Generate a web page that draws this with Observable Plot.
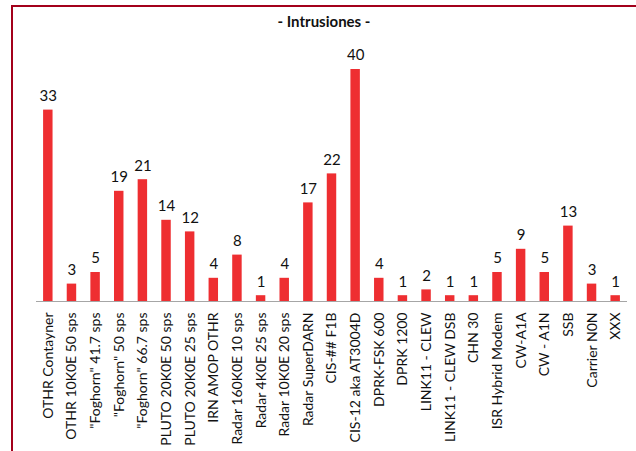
<!DOCTYPE html>
<html>
<head>
<meta charset="utf-8">
<script src="https://cdn.jsdelivr.net/npm/d3@7"></script>
<script src="https://cdn.jsdelivr.net/npm/@observablehq/plot@0.6"></script>
<style>
  html, body { margin: 0; padding: 0; background: #fff; }
  #wrap { position: relative; width: 636px; height: 451px; overflow: hidden; font-family: Lato, "Open Sans", sans-serif; }
  #frame { position: absolute; left: 11px; top: 5px; right: -4px; bottom: -4px;
           border-left: 2px solid #a3001b; border-top: 2px solid #a3001b; pointer-events: none; }
  #title { position: absolute; top: 12px; left: 12px; right: 0; text-align: center;
           font-weight: bold; font-size: 15px; color: #111; }
  #chart { position: absolute; left: 0; top: 0; }
</style>
</head>
<body>
<div id="wrap">
  <div id="chart"></div>
  <div id="frame"></div>
  <div id="title">- Intrusiones -</div>
</div>
<script>
// Signal types and how many intrusions were logged for each
const categories = [
  "OTHR Contayner",
  "OTHR 10K0E 50 sps",
  "\"Foghorn\" 41.7 sps",
  "\"Foghorn\" 50 sps",
  "\"Foghorn\" 66.7 sps",
  "PLUTO 20K0E 50 sps",
  "PLUTO 20K0E 25 sps",
  "IRN AMOP OTHR",
  "Radar 160K0E 10 sps",
  "Radar 4K0E 25 sps",
  "Radar 10K0E 20 sps",
  "Radar SuperDARN",
  "CIS-## F1B",
  "CIS-12 aka AT3004D",
  "DPRK-FSK 600",
  "DPRK 1200",
  "LINK11 - CLEW",
  "LINK11 - CLEW DSB",
  "CHN 30",
  "ISR Hybrid Modem",
  "CW-A1A",
  "CW - A1N",
  "SSB",
  "Carrier N0N",
  "XXX"
];
const counts = [33, 3, 5, 19, 21, 14, 12, 4, 8, 1, 4, 17, 22, 40, 4, 1, 2, 1, 1, 5, 9, 5, 13, 3, 1];

const data = categories.map((name, i) => ({name, count: counts[i]}));

const chart = Plot.plot({
  width: 636,
  height: 451,
  marginLeft: 36,
  marginRight: 9,
  marginTop: 69,
  marginBottom: 150,
  style: {fontFamily: "Lato, 'Open Sans', sans-serif", fontSize: "14px", color: "#111", background: "transparent"},
  x: {type: "band", domain: categories, paddingInner: 0.6, paddingOuter: 0.3, round: false, label: null,
      tickSize: 0, tickPadding: 11, tickRotate: -90},
  y: {domain: [0, 40], axis: null},
  marks: [
    Plot.barY(data, {x: "name", y: "count", fill: "#ee2e31"}),
    Plot.ruleY([0], {stroke: "#a6a6a6", strokeWidth: 1}),
    Plot.text(data, {x: "name", y: "count", text: d => String(d.count), dy: -14,
                     fill: "#111", fontSize: 15})
  ]
});
document.getElementById("chart").appendChild(chart);
</script>
</body>
</html>
